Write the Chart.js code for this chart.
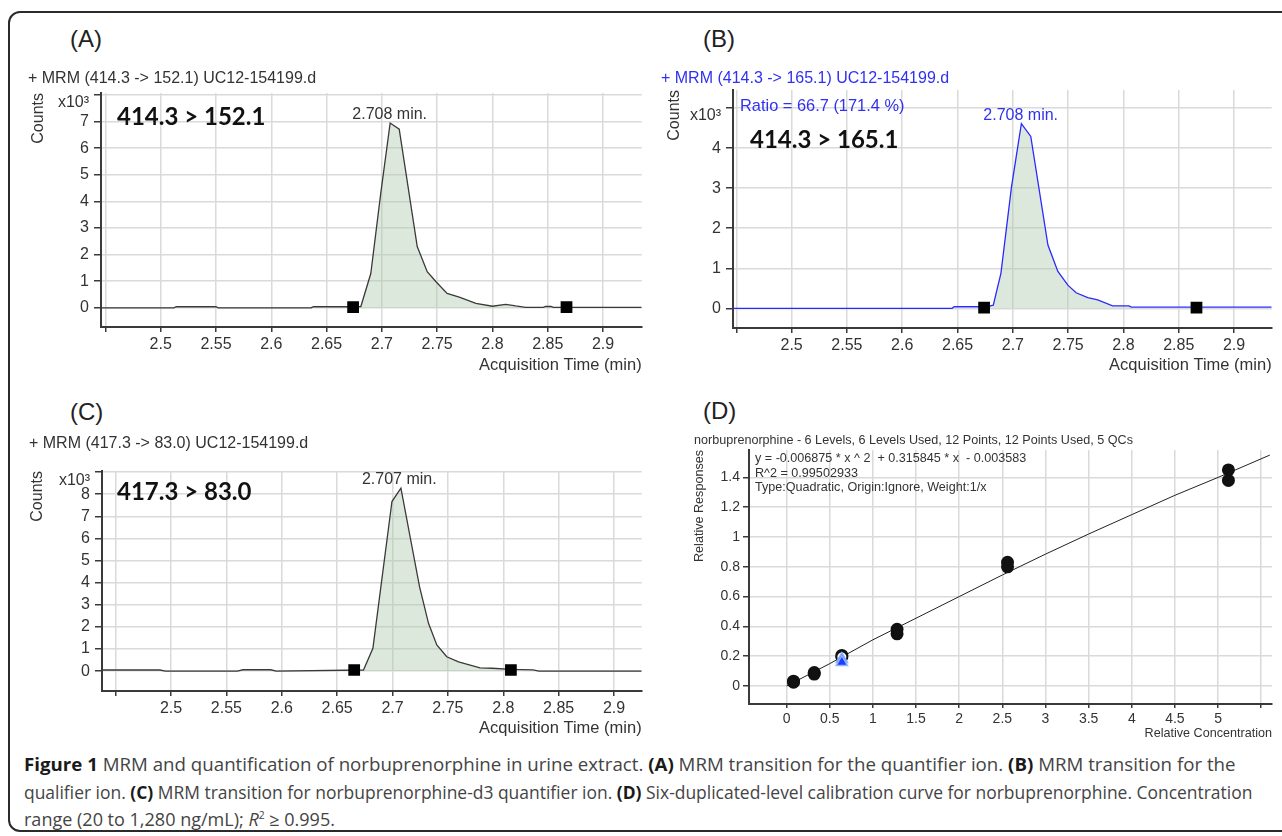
<!DOCTYPE html>
<html>
<head>
<meta charset="utf-8">
<script src="https://cdn.jsdelivr.net/npm/chart.js@4.4.0/dist/chart.umd.min.js"></script>
<style>
body { margin:0; width:1282px; height:836px; position:relative; overflow:hidden; background:#fff;
       font-family:"Liberation Sans", Arial, sans-serif; color:#333; }
.frame { position:absolute; left:8px; top:11px; width:1300px; height:821px; border:2px solid #2b2b2b;
         border-radius:12px; box-sizing:border-box; }
canvas { position:absolute; }
.t { position:absolute; white-space:nowrap; line-height:1; }
.lbl { font-size:24px; color:#222; }
.ttl { font-size:16px; color:#333; }
.blue { color:#3030f0; }
.big { font-family:Lato, "Open Sans", sans-serif; font-weight:700; font-size:24px; color:#111; }
.sm { font-size:12.6px; color:#333; }
.cap { font-family:"Open Sans", sans-serif; font-size:17.5px; color:#444; transform-origin:0 50%; }
.cap b { color:#1a1a1a; }
</style>
</head>
<body>
<div class="frame"></div>

<canvas id="chartA"></canvas>
<canvas id="chartB"></canvas>
<canvas id="chartC"></canvas>
<canvas id="chartD"></canvas>

<div class="t lbl" style="left:70px;top:27px">(A)</div>
<div class="t lbl" style="left:703px;top:27px">(B)</div>
<div class="t lbl" style="left:70px;top:400px">(C)</div>
<div class="t lbl" style="left:703px;top:399px">(D)</div>

<div class="t ttl" style="left:28px;top:70px">+ MRM (414.3 -&gt; 152.1) UC12-154199.d</div>
<div class="t ttl blue" style="left:661px;top:70px">+ MRM (414.3 -&gt; 165.1) UC12-154199.d</div>
<div class="t ttl" style="left:29px;top:435px">+ MRM (417.3 -&gt; 83.0) UC12-154199.d</div>
<div class="t ttl blue" style="left:740px;top:97px;font-size:16.4px">Ratio = 66.7 (171.4 %)</div>

<div class="t big" style="left:117px;top:104px">414.3 &gt; 152.1</div>
<div class="t big" style="left:750px;top:127px">414.3 &gt; 165.1</div>
<div class="t big" style="left:117px;top:479px">417.3 &gt; 83.0</div>

<div class="t sm" style="left:694px;top:434px">norbuprenorphine - 6 Levels, 6 Levels Used, 12 Points, 12 Points Used, 5 QCs</div>
<div class="t sm" style="left:755px;top:452px">y = -0.006875 * x ^ 2&nbsp; + 0.315845 * x&nbsp; - 0.003583</div>
<div class="t sm" style="left:755px;top:466.5px">R^2 = 0.99502933</div>
<div class="t sm" style="left:755px;top:480.5px">Type:Quadratic, Origin:Ignore, Weight:1/x</div>

<div class="t cap" data-w="1212" style="left:24px;top:756px"><b>Figure 1</b> MRM and quantification of norbuprenorphine in urine extract. <b>(A)</b> MRM transition for the quantifier ion. <b>(B)</b> MRM transition for the</div>
<div class="t cap" data-w="1228" style="left:24px;top:783.5px">qualifier ion. <b>(C)</b> MRM transition for norbuprenorphine-d3 quantifier ion. <b>(D)</b> Six-duplicated-level calibration curve for norbuprenorphine. Concentration</div>
<div class="t cap" data-w="311" style="left:24px;top:810px">range (20 to 1,280 ng/mL); <i>R</i><sup style="font-size:10px">2</sup> ≥ 0.995.</div>

<script>
// (A) 414.3 > 152.1
const timeA = [2.446, 2.512, 2.514, 2.550, 2.552, 2.636, 2.638, 2.676, 2.681, 2.690, 2.699, 2.7075, 2.7157, 2.732, 2.741, 2.749, 2.759, 2.770, 2.785, 2.800, 2.812, 2.821, 2.830, 2.846, 2.848, 2.853, 2.855, 2.935];
const countsA = [0.0, 0.0, 0.04, 0.04, 0.0, 0.0, 0.04, 0.04, 0.05, 1.29, 4.3, 6.94, 6.71, 2.3, 1.36, 0.98, 0.54, 0.4, 0.17, 0.06, 0.13, 0.07, 0.02, 0.02, 0.05, 0.05, 0.02, 0.02];
const markTimeA = [2.674, 2.867];
const markCountsA = [0.03, 0.03];
const yTicksA = [0, 1, 2, 3, 4, 5, 6, 7, 8];
const yLabelsA = ['0', '1', '2', '3', '4', '5', '6', '7', 'x10³'];

// (B) 414.3 > 165.1
const timeB = [2.447, 2.645, 2.647, 2.676, 2.6823, 2.6892, 2.6988, 2.7077, 2.7162, 2.7317, 2.7407, 2.7497, 2.7572, 2.7677, 2.7767, 2.7902, 2.805, 2.807, 2.934];
const countsB = [0.0, 0.0, 0.04, 0.04, 0.08, 0.875, 3.04, 4.61, 4.29, 1.58, 0.92, 0.58, 0.39, 0.27, 0.21, 0.06, 0.06, 0.03, 0.03];
const markTimeB = [2.674, 2.866];
const markCountsB = [0.02, 0.02];
const yTicksB = [0, 1, 2, 3, 4, 5];
const yLabelsB = ['0', '1', '2', '3', '4', 'x10³'];

// (C) 417.3 > 83.0
const timeC = [2.4377, 2.49, 2.495, 2.56, 2.565, 2.59, 2.595, 2.6738, 2.6823, 2.6995, 2.7076, 2.7244, 2.7325, 2.740, 2.749, 2.7596, 2.779, 2.790, 2.8069, 2.827, 2.832, 2.925];
const countsC = [0.05, 0.05, 0.0, 0.0, 0.06, 0.06, 0.0, 0.05, 1.03, 7.67, 8.27, 3.82, 2.16, 1.18, 0.65, 0.42, 0.15, 0.13, 0.08, 0.06, 0.0, 0.0];
const markTimeC = [2.6654, 2.8069];
const markCountsC = [0.05, 0.05];
const yTicksC = [0, 1, 2, 3, 4, 5, 6, 7, 8, 9];
const yLabelsC = ['0', '1', '2', '3', '4', '5', '6', '7', '8', 'x10³'];

// shared time axis ticks
const xTicksT = [2.45, 2.5, 2.55, 2.6, 2.65, 2.7, 2.75, 2.8, 2.85, 2.9];
const xLabelsT = ['', '2.5', '2.55', '2.6', '2.65', '2.7', '2.75', '2.8', '2.85', '2.9'];

// peak labels
const peakTimes = [2.708, 2.708, 2.707];
const peakTops = [6.94, 4.61, 8.27];
const peakTexts = ['2.708 min.', '2.708 min.', '2.707 min.'];

// (D) calibration
const concD = [0.08, 0.08, 0.32, 0.32, 0.64, 0.64, 1.28, 1.28, 2.56, 2.56, 5.12, 5.12];
const respD = [0.025, 0.032, 0.08, 0.09, 0.205, 0.195, 0.38, 0.35, 0.83, 0.80, 1.45, 1.38];
const qcConcD = [0.64, 0.64];
const qcRespD = [0.18, 0.16];
const fitConcD = [0, 0.5, 1, 1.5, 2, 2.5, 3, 3.5, 4, 4.5, 5, 5.6];
const fitRespD = [0, 0.15, 0.31, 0.455, 0.60, 0.745, 0.885, 1.02, 1.15, 1.28, 1.40, 1.55];
const xTicksD = [0, 0.5, 1, 1.5, 2, 2.5, 3, 3.5, 4, 4.5, 5, 5.5];
const xLabelsD = ['0', '0.5', '1', '1.5', '2', '2.5', '3', '3.5', '4', '4.5', '5', ''];
const yTicksD = [0, 0.2, 0.4, 0.6, 0.8, 1, 1.2, 1.4];
const yLabelsD = ['0', '0.2', '0.4', '0.6', '0.8', '1', '1.2', '1.4'];

const GRID = '#dadada';
const AXIS = '#3a3a3a';
const FILL = 'rgba(175,200,175,0.42)';
const FONT = '"Liberation Sans", Arial, sans-serif';

const pts = (xs, ys) => xs.map((x, i) => ({ x: x, y: ys[i] }));

// text over the peak, placed through the chart scales
const peakLabel = {
    id: 'peakLabel',
    afterDatasetsDraw(chart, args, opts) {
        if (!opts.text) return;
        const { ctx, scales } = chart;
        ctx.save();
        ctx.font = opts.font;
        ctx.fillStyle = opts.color;
        ctx.textAlign = 'center';
        ctx.textBaseline = 'alphabetic';
        ctx.fillText(opts.text, scales.x.getPixelForValue(opts.x) - 1, scales.y.getPixelForValue(opts.y) - 4);
        ctx.restore();
    }
};

function place(canvas, plot, yw, pt, xh, pr) {
    const w = plot.r - plot.l + yw + pr;
    const h = plot.b - plot.t + pt + xh;
    canvas.width = w;
    canvas.height = h;
    canvas.style.width = w + 'px';
    canvas.style.height = h + 'px';
    canvas.style.left = (plot.l - yw) + 'px';
    canvas.style.top = (plot.t - pt) + 'px';
}

function tracePanel(id, p) {
    const canvas = document.getElementById(id);
    place(canvas, p.plot, p.yw, p.pt, p.xh, p.pr);
    const inside = p.time.map((t, i) => ({ x: t, y: p.counts[i] }))
        .filter(d => d.x >= p.markT[0] && d.x <= p.markT[1]);
    new Chart(canvas, {
        type: 'line',
        data: {
            datasets: [
                { data: pts(p.markT, p.markC), showLine: false, pointStyle: 'rect', pointRadius: 8.3,
                  pointBackgroundColor: '#000', pointBorderWidth: 0 },
                { data: pts(p.time, p.counts), borderColor: p.color, borderWidth: 1.3, pointRadius: 0,
                  tension: 0, fill: false },
                { data: inside, borderWidth: 0, pointRadius: 0, tension: 0, fill: 'origin',
                  backgroundColor: FILL }
            ]
        },
        options: {
            responsive: false,
            animation: false,
            layout: { padding: { top: p.pt, right: p.pr, left: 0, bottom: 0 } },
            plugins: {
                legend: { display: false },
                tooltip: { enabled: false },
                peakLabel: { x: p.peakX, y: p.peakY, text: p.peakText, color: p.peakColor,
                             font: '16px ' + FONT }
            },
            scales: {
                x: {
                    type: 'linear', min: p.xmin, max: p.xmax,
                    afterBuildTicks: s => { s.ticks = xTicksT.map(v => ({ value: v })); },
                    afterFit: s => { s.height = p.xh; },
                    ticks: { callback: (v, i) => xLabelsT[i], font: { size: 16, family: FONT },
                             color: '#333', padding: 3, maxRotation: 0, autoSkip: false },
                    grid: { color: GRID, lineWidth: 1.5, tickColor: AXIS, tickLength: 5 },
                    border: { color: AXIS, width: 2 },
                    title: { display: true, text: 'Acquisition Time (min)', align: 'end', color: '#333',
                             font: { size: 16.5, family: FONT }, padding: 0 }
                },
                y: {
                    min: p.ymin, max: p.ymax,
                    afterBuildTicks: s => { s.ticks = p.yTicks.map(v => ({ value: v })); },
                    afterFit: s => { s.width = p.yw; },
                    ticks: { callback: (v, i) => i === p.yTicks.length - 1 ? ['', p.yLabels[i]] : p.yLabels[i],
                             font: { size: 16, family: FONT, lineHeight: 1 }, color: '#333', padding: 5,
                             autoSkip: false },
                    grid: { color: GRID, lineWidth: 1.5, tickColor: AXIS, tickLength: 7 },
                    border: { color: AXIS, width: 2 },
                    title: { display: true, text: 'Counts', align: 'end', color: '#333',
                             font: { size: 16, family: FONT }, padding: 0 }
                }
            }
        },
        plugins: [peakLabel]
    });
}

tracePanel('chartA', {
    plot: { l: 101, t: 93, r: 642, b: 327 }, yw: 72, pt: 24, xh: 48, pr: 8,
    xmin: 2.446, xmax: 2.935, ymin: -0.72, ymax: 8.07,
    time: timeA, counts: countsA, markT: markTimeA, markC: markCountsA,
    yTicks: yTicksA, yLabels: yLabelsA, color: '#3a3a3a',
    peakX: peakTimes[0], peakY: peakTops[0], peakText: peakTexts[0], peakColor: '#333'
});

tracePanel('chartB', {
    plot: { l: 733, t: 90, r: 1274, b: 328 }, yw: 68, pt: 24, xh: 47, pr: 6,
    xmin: 2.447, xmax: 2.934, ymin: -0.49, ymax: 5.45,
    time: timeB, counts: countsB, markT: markTimeB, markC: markCountsB,
    yTicks: yTicksB, yLabels: yLabelsB, color: '#2a2aff',
    peakX: peakTimes[1], peakY: peakTops[1], peakText: peakTexts[1], peakColor: '#3030f0'
});

tracePanel('chartC', {
    plot: { l: 102, t: 471, r: 642, b: 691 }, yw: 74, pt: 24, xh: 47, pr: 8,
    xmin: 2.4377, xmax: 2.925, ymin: -0.9, ymax: 9.05,
    time: timeC, counts: countsC, markT: markTimeC, markC: markCountsC,
    yTicks: yTicksC, yLabels: yLabelsC, color: '#3a3a3a',
    peakX: peakTimes[2], peakY: peakTops[2], peakText: peakTexts[2], peakColor: '#333'
});

// (D) calibration curve
const plotD = { l: 749, t: 450, r: 1273, b: 704 };
const canvasD = document.getElementById('chartD');
place(canvasD, plotD, 57, 12, 37, 7);
new Chart(canvasD, {
    type: 'scatter',
    data: {
        datasets: [
            { data: pts(qcConcD, qcRespD), pointStyle: 'triangle', pointRadius: 6.5,
              pointBackgroundColor: '#1f3cff', pointBorderColor: '#8fb4ff', pointBorderWidth: 1.5 },
            { data: pts(concD, respD), pointRadius: 5.5, pointBorderWidth: 2, pointBorderColor: '#111',
              pointBackgroundColor: c => concD[c.dataIndex] === 0.64 ? '#fff' : '#111' },
            { data: pts(fitConcD, fitRespD), showLine: true, borderColor: '#222', borderWidth: 1,
              pointRadius: 0, tension: 0 }
        ]
    },
    options: {
        responsive: false,
        animation: false,
        layout: { padding: { top: 12, right: 7, left: 0, bottom: 0 } },
        plugins: { legend: { display: false }, tooltip: { enabled: false } },
        scales: {
            x: {
                type: 'linear', min: -0.436, max: 5.625,
                afterBuildTicks: s => { s.ticks = xTicksD.map(v => ({ value: v })); },
                afterFit: s => { s.height = 37; },
                ticks: { callback: (v, i) => xLabelsD[i], font: { size: 14, family: FONT }, color: '#333',
                         padding: 3, maxRotation: 0, autoSkip: false },
                grid: { color: GRID, lineWidth: 1.5, tickColor: AXIS, tickLength: 4 },
                border: { color: AXIS, width: 2 },
                title: { display: true, text: 'Relative Concentration', align: 'end', color: '#333',
                         font: { size: 12.6, family: FONT }, padding: 0 }
            },
            y: {
                min: -0.121, max: 1.584,
                afterBuildTicks: s => { s.ticks = yTicksD.map(v => ({ value: v })); },
                afterFit: s => { s.width = 57; },
                ticks: { callback: (v, i) => yLabelsD[i], font: { size: 14, family: FONT }, color: '#333',
                         padding: 3, autoSkip: false },
                grid: { color: GRID, lineWidth: 1.5, tickColor: AXIS, tickLength: 6 },
                border: { color: AXIS, width: 2 },
                title: { display: true, text: 'Relative Responses', align: 'end', color: '#333',
                         font: { size: 12.6, family: FONT }, padding: 0 }
            }
        }
    }
});

// stretch the caption lines to the widths of the printed figure
document.fonts.ready.then(() => {
    document.querySelectorAll('.cap').forEach(el => {
        const w = +el.dataset.w;
        el.style.transform = 'scaleX(' + (w / el.offsetWidth) + ')';
    });
});
</script>
</body>
</html>
